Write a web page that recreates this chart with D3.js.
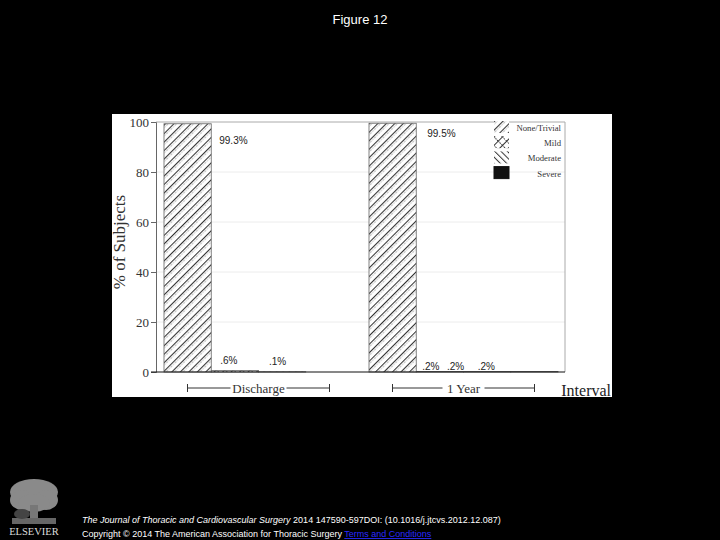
<!DOCTYPE html>
<html>
<head>
<meta charset="utf-8">
<script src="https://cdn.jsdelivr.net/npm/d3@7"></script>
<style>
  body { margin: 0; background: #000; }
  svg { display: block; }
</style>
</head>
<body>
<div id="chart"></div>
<script>
// data
var groups = ["Discharge", "1 Year"];
var severities = ["None/Trivial", "Mild", "Moderate", "Severe"];
var dischargeValues = [99.3, 0.6, 0.1, 0];
var yearValues = [99.5, 0.2, 0.2, 0.2];
var yTicks = [0, 20, 40, 60, 80, 100];

var svgWidth = 720;
var svgHeight = 540;

var svg = d3.select("#chart")
    .append("svg")
    .attr("width", svgWidth)
    .attr("height", svgHeight);

svg.append("rect")
    .attr("width", svgWidth)
    .attr("height", svgHeight)
    .attr("fill", "#000");

// title
svg.append("text")
    .attr("x", 360)
    .attr("y", 24)
    .attr("text-anchor", "middle")
    .attr("font-family", "Liberation Sans, Arial, sans-serif")
    .attr("font-size", "13px")
    .attr("fill", "#fff")
    .text("Figure 12");

// white figure panel
svg.append("rect")
    .attr("x", 112)
    .attr("y", 114)
    .attr("width", 500)
    .attr("height", 283)
    .attr("fill", "#fff");

// hatch patterns
var defs = svg.append("defs");

function hatch(id, angle, size, dashed) {
    var p = defs.append("pattern")
        .attr("id", id)
        .attr("patternUnits", "userSpaceOnUse")
        .attr("width", size)
        .attr("height", size)
        .attr("patternTransform", "rotate(" + angle + ")");
    p.append("rect").attr("width", size).attr("height", size).attr("fill", "#fff");
    p.append("line")
        .attr("x1", 0.5).attr("y1", 0).attr("x2", 0.5).attr("y2", size)
        .attr("stroke", "#333").attr("stroke-width", 1);
    if (dashed) {
        p.append("line")
            .attr("x1", 2.2).attr("y1", 0).attr("x2", 2.2).attr("y2", size)
            .attr("stroke", "#999").attr("stroke-width", 0.8)
            .attr("stroke-dasharray", "1.2,1.2");
    }
    return p;
}

hatch("pNone", 45, 6, true);
var cross = hatch("pMild", 45, 6, false);
cross.append("line")
    .attr("x1", 0).attr("y1", 0.5).attr("x2", 6).attr("y2", 0.5)
    .attr("stroke", "#333").attr("stroke-width", 1)
    .attr("stroke-dasharray", "1.5,1");
hatch("pMod", -45, 4.5, false);

var fills = {
    "None/Trivial": "url(#pNone)",
    "Mild": "url(#pMild)",
    "Moderate": "url(#pMod)",
    "Severe": "#111"
};

// scales
var yScale = d3.scaleLinear()
    .domain([0, 100])
    .range([372, 122]);

var x0 = d3.scaleBand()
    .domain(groups)
    .range([156, 566])
    .paddingInner(0.078)
    .paddingOuter(0.039);

var x1 = d3.scaleBand()
    .domain(severities)
    .range([0, x0.bandwidth()]);

var plotLeft = 156, plotRight = 565;

// gridlines
svg.append("g")
    .selectAll("line")
    .data(yTicks.filter(function(t) { return t > 0 && t < 100; }))
    .enter()
    .append("line")
    .attr("x1", plotLeft)
    .attr("x2", plotRight)
    .attr("y1", function(d) { return yScale(d); })
    .attr("y2", function(d) { return yScale(d); })
    .attr("stroke", "#ececec")
    .attr("stroke-width", 1);

// frame top / right
svg.append("line")
    .attr("x1", plotLeft).attr("x2", plotRight)
    .attr("y1", yScale(100)).attr("y2", yScale(100))
    .attr("stroke", "#aaa");
svg.append("line")
    .attr("x1", plotRight).attr("x2", plotRight)
    .attr("y1", yScale(100)).attr("y2", yScale(0))
    .attr("stroke", "#aaa");

// bars
var table = groups.map(function(g, i) {
    var vals = i === 0 ? dischargeValues : yearValues;
    return severities.map(function(s, j) {
        return { group: g, sev: s, value: vals[j], idx: j };
    });
});
var flat = [].concat.apply([], table);

svg.append("g")
    .selectAll("rect")
    .data(flat.filter(function(d) { return d.value > 0; }))
    .enter()
    .append("rect")
    .attr("x", function(d) { return x0(d.group) + x1(d.sev); })
    .attr("y", function(d) { return yScale(d.value); })
    .attr("width", x1.bandwidth())
    .attr("height", function(d) { return yScale(0) - yScale(d.value); })
    .attr("fill", function(d) { return fills[d.sev]; })
    .attr("stroke", "#666")
    .attr("stroke-width", 0.8);

// value labels (hand placed in the original, nudged relative to their bar)
var fmt = function(v) { return d3.format(".1f")(v).replace(/^0/, "") + "%"; };
var nudge = {
    "Discharge": [[x1.bandwidth() + 8, 20], [9, -7], [10.5, -7], [0, 0]],
    "1 Year": [[x1.bandwidth() + 11, 14], [6, -1.5], [-16.5, -1.5], [-33, -1.5]]
};

svg.append("g")
    .selectAll("text")
    .data(flat.filter(function(d) { return d.value > 0; }))
    .enter()
    .append("text")
    .attr("x", function(d) { return x0(d.group) + x1(d.sev) + nudge[d.group][d.idx][0]; })
    .attr("y", function(d) { return yScale(d.value) + nudge[d.group][d.idx][1]; })
    .attr("font-family", "Liberation Sans, Arial, sans-serif")
    .attr("font-size", "10px")
    .attr("fill", "#222")
    .text(function(d) { return fmt(d.value); });

// y axis
var yAxis = d3.axisLeft(yScale).tickValues(yTicks).tickSize(5).tickPadding(2);
var yAxisG = svg.append("g")
    .attr("transform", "translate(" + plotLeft + ",0)")
    .call(yAxis);
yAxisG.select(".domain").attr("stroke", "#666");
yAxisG.selectAll(".tick line").attr("stroke", "#666");
yAxisG.selectAll("text")
    .attr("font-family", "Liberation Serif, Times New Roman, serif")
    .attr("font-size", "13px")
    .attr("fill", "#333");

// x baseline
svg.append("line")
    .attr("x1", plotLeft - 5).attr("x2", plotRight)
    .attr("y1", yScale(0)).attr("y2", yScale(0))
    .attr("stroke", "#111")
    .attr("stroke-width", 1.2);

// y label
svg.append("text")
    .attr("transform", "translate(125, 242) rotate(-90)")
    .attr("text-anchor", "middle")
    .attr("font-family", "Liberation Serif, Times New Roman, serif")
    .attr("font-size", "17px")
    .attr("fill", "#333")
    .text("% of Subjects");

// group brackets under the axis
var bracketY = 388;
groups.forEach(function(g) {
    var cx = x0(g) + x0.bandwidth() / 2;
    var half = 71;
    var gap = g === "Discharge" ? 28 : 21;
    var br = svg.append("g").attr("stroke", "#333").attr("stroke-width", 1);
    br.append("line").attr("x1", cx - half).attr("x2", cx - gap).attr("y1", bracketY).attr("y2", bracketY);
    br.append("line").attr("x1", cx + gap).attr("x2", cx + half).attr("y1", bracketY).attr("y2", bracketY);
    br.append("line").attr("x1", cx - half).attr("x2", cx - half).attr("y1", bracketY - 4).attr("y2", bracketY + 4);
    br.append("line").attr("x1", cx + half).attr("x2", cx + half).attr("y1", bracketY - 4).attr("y2", bracketY + 4);
    svg.append("text")
        .attr("x", cx)
        .attr("y", bracketY + 5)
        .attr("text-anchor", "middle")
        .attr("font-family", "Liberation Serif, Times New Roman, serif")
        .attr("font-size", "13px")
        .attr("fill", "#333")
        .text(g);
});

svg.append("text")
    .attr("x", 611)
    .attr("y", 396)
    .attr("text-anchor", "end")
    .attr("font-family", "Liberation Serif, Times New Roman, serif")
    .attr("font-size", "16px")
    .attr("fill", "#222")
    .text("Interval");

// legend
var legend = svg.append("g")
    .selectAll("g")
    .data(severities)
    .enter()
    .append("g")
    .attr("transform", function(d, i) { return "translate(494," + (121 + i * 15.2) + ")"; });

legend.append("rect")
    .attr("width", 15)
    .attr("height", 12)
    .attr("fill", function(d) { return fills[d]; })
    .attr("stroke", function(d) { return d === "Severe" ? "#111" : "none"; });

legend.append("text")
    .attr("x", 67)
    .attr("y", 10)
    .attr("text-anchor", "end")
    .attr("font-family", "Liberation Serif, Times New Roman, serif")
    .attr("font-size", "8.7px")
    .attr("fill", "#333")
    .text(function(d) { return d; });

// Elsevier logo, roughly
var logo = svg.append("g");
var blobs = [
    [34, 492, 24, 13], [22, 500, 12, 10], [46, 500, 12, 10], [34, 503, 16, 9]
];
logo.selectAll("ellipse")
    .data(blobs)
    .enter()
    .append("ellipse")
    .attr("cx", function(d) { return d[0]; })
    .attr("cy", function(d) { return d[1]; })
    .attr("rx", function(d) { return d[2]; })
    .attr("ry", function(d) { return d[3]; })
    .attr("fill", "#8a8a8a");
logo.append("rect").attr("x", 30).attr("y", 505).attr("width", 8).attr("height", 18).attr("fill", "#777");
logo.append("rect").attr("x", 12).attr("y", 518).attr("width", 44).attr("height", 6).attr("fill", "#666");
logo.append("ellipse").attr("cx", 22).attr("cy", 514).attr("rx", 8).attr("ry", 5).attr("fill", "#444");
logo.append("text")
    .attr("x", 34)
    .attr("y", 535)
    .attr("text-anchor", "middle")
    .attr("font-family", "Liberation Serif, Times New Roman, serif")
    .attr("font-size", "10.5px")
    .attr("fill", "#ddd")
    .text("ELSEVIER");

// footer
var foot1 = svg.append("text")
    .attr("x", 82)
    .attr("y", 523)
    .attr("font-family", "Liberation Sans, Arial, sans-serif")
    .attr("font-size", "9px")
    .attr("fill", "#fff");
foot1.append("tspan")
    .attr("font-style", "italic")
    .text("The Journal of Thoracic and Cardiovascular Surgery");
foot1.append("tspan")
    .text(" 2014 147590-597DOI: (10.1016/j.jtcvs.2012.12.087) ");

var foot2 = svg.append("text")
    .attr("x", 82)
    .attr("y", 537)
    .attr("font-family", "Liberation Sans, Arial, sans-serif")
    .attr("font-size", "9px")
    .attr("fill", "#fff");
foot2.append("tspan")
    .text("Copyright © 2014 The American Association for Thoracic Surgery ");
foot2.append("tspan")
    .attr("fill", "#2a2aff")
    .attr("text-decoration", "underline")
    .text("Terms and Conditions");
</script>
</body>
</html>
